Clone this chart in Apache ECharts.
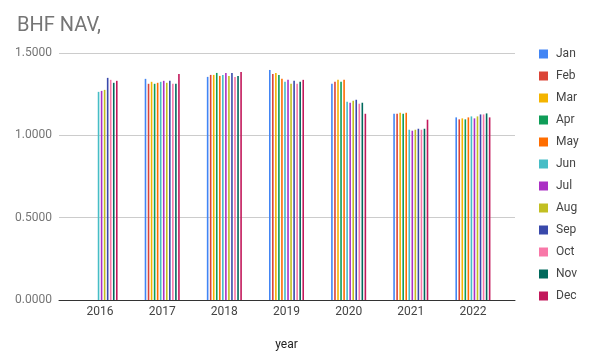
<!DOCTYPE html>
<html>
<head>
<meta charset="utf-8">
<script src="https://cdn.jsdelivr.net/npm/echarts@6/dist/echarts.min.js"></script>
<style>html,body{margin:0;padding:0;background:#fff}#c{width:595px;height:364px}</style>
</head>
<body>
<div id="c"></div>
<script>
const years = ['2016','2017','2018','2019','2020','2021','2022'];
const months = ['Jan','Feb','Mar','Apr','May','Jun','Jul','Aug','Sep','Oct','Nov','Dec'];
const colors = ['#4285F4','#DB4437','#F4B400','#0F9D58','#FF6D00','#46BDC6','#AB30C4','#C2BF22','#3949AB','#F878A8','#00695C','#C2185B'];
const yTicks = [0, 0.5, 1.0, 1.5];
const Jan = [null, 1.343, 1.355, 1.397, 1.313, 1.131, 1.109];
const Feb = [null, 1.313, 1.367, 1.373, 1.325, 1.131, 1.097];
const Mar = [null, 1.325, 1.367, 1.379, 1.337, 1.137, 1.103];
const Apr = [null, 1.313, 1.379, 1.367, 1.325, 1.131, 1.097];
const May = [null, 1.319, 1.361, 1.343, 1.337, 1.137, 1.109];
const Jun = [1.264, 1.325, 1.367, 1.325, 1.204, 1.034, 1.115];
const Jul = [1.270, 1.331, 1.379, 1.337, 1.198, 1.028, 1.103];
const Aug = [1.276, 1.319, 1.361, 1.313, 1.210, 1.034, 1.115];
const Sep = [1.349, 1.331, 1.379, 1.331, 1.216, 1.040, 1.127];
const Oct = [1.337, 1.313, 1.355, 1.313, 1.192, 1.034, 1.127];
const Nov = [1.319, 1.313, 1.361, 1.325, 1.198, 1.040, 1.133];
const Dec = [1.331, 1.373, 1.385, 1.337, 1.131, 1.095, 1.109];
const seriesData = [Jan, Feb, Mar, Apr, May, Jun, Jul, Aug, Sep, Oct, Nov, Dec];

const FONT = 'Roboto';
const chart = echarts.init(document.getElementById('c'), null, {renderer: 'canvas'});
chart.setOption({
  animation: false,
  color: colors,
  title: {
    text: 'BHF NAV,', left: 12, top: 11,
    textStyle: {fontFamily: FONT, fontSize: 20, fontWeight: 'normal', color: '#757575'}
  },
  legend: {
    orient: 'vertical', left: 534, top: 42,
    icon: 'rect', itemWidth: 9, itemHeight: 9, itemGap: 8,
    textStyle: {fontFamily: FONT, fontSize: 12, color: '#444', lineHeight: 14, padding: [0, 0, 0, 3]},
    data: months
  },
  grid: [
    {left: 59, right: 80, top: 53, bottom: 64},
    {left: 69, right: 91, top: 53, bottom: 64}
  ],
  xAxis: [
    {type: 'category', gridIndex: 0, data: [''], axisLabel: {show: false}, axisTick: {show: false},
     axisLine: {show: true, lineStyle: {color: '#333', width: 1}}, z: 5},
    {type: 'category', gridIndex: 1, data: years,
     axisLine: {show: false}, axisTick: {show: false},
     axisLabel: {fontFamily: FONT, fontSize: 12, color: '#444', margin: 6},
     name: 'year', nameLocation: 'middle', nameGap: 39,
     nameTextStyle: {fontFamily: FONT, fontSize: 12, color: '#222'}}
  ],
  yAxis: [
    {type: 'value', gridIndex: 0, min: yTicks[0], max: yTicks[yTicks.length-1], interval: 0.5,
     axisLine: {show: false}, axisTick: {show: false},
     splitLine: {lineStyle: {color: '#cccccc'}},
     axisLabel: {fontFamily: FONT, fontSize: 12, color: '#757575', margin: 7,
       formatter: v => v.toFixed(4)}},
    {type: 'value', gridIndex: 1, min: yTicks[0], max: yTicks[yTicks.length-1], interval: 0.5,
     show: false, splitLine: {show: false}}
  ],
  series: months.map((m, i) => ({
    name: m, type: 'bar', xAxisIndex: 1, yAxisIndex: 1,
    barWidth: 1.6, barGap: '90%',
    data: seriesData[i]
  }))
});
</script>
</body>
</html>
